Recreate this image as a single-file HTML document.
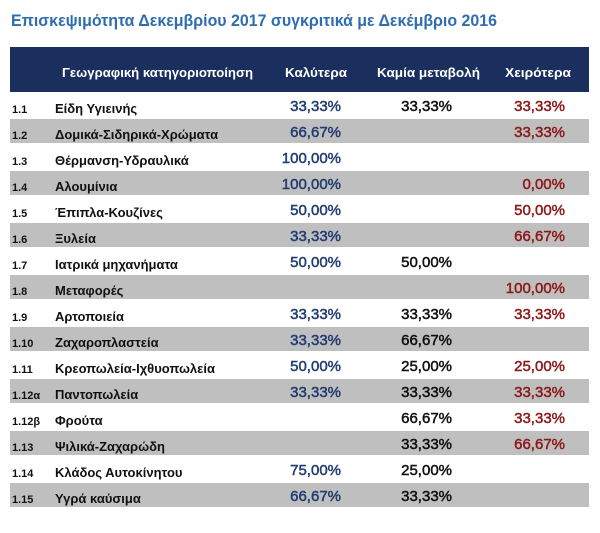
<!DOCTYPE html>
<html><head><meta charset="utf-8"><style>
html,body{margin:0;padding:0;background:#fff;width:600px;height:533px;overflow:hidden}
svg{display:block;font-family:"Liberation Sans",Arial,sans-serif}
</style></head><body>
<svg id="tbl" width="600" height="533" viewBox="0 0 600 533">
<text x="11" y="26" font-size="17" font-weight="bold" fill="#2e6db0" textLength="486" lengthAdjust="spacingAndGlyphs">Επισκεψιμότητα Δεκεμβρίου 2017 συγκριτικά με Δεκέμβριο 2016</text>
<rect x="10" y="47" width="579" height="45" fill="#1b2f5e"/>
<text x="62" y="77" font-size="13" font-weight="bold" fill="#fff" textLength="191" lengthAdjust="spacingAndGlyphs">Γεωγραφική κατηγοριοποίηση</text>
<text x="285" y="77" font-size="13" font-weight="bold" fill="#fff" textLength="62" lengthAdjust="spacingAndGlyphs">Καλύτερα</text>
<text x="377" y="77" font-size="13" font-weight="bold" fill="#fff" textLength="103" lengthAdjust="spacingAndGlyphs">Καμία μεταβολή</text>
<text x="505" y="77" font-size="13" font-weight="bold" fill="#fff" textLength="66" lengthAdjust="spacingAndGlyphs">Χειρότερα</text>
<g id="rows"></g>
</svg>
<script>
const codes=["1.1","1.2","1.3","1.4","1.5","1.6","1.7","1.8","1.9","1.10","1.11","1.12α","1.12β","1.13","1.14","1.15"];
const names=["Είδη Υγιεινής","Δομικά-Σιδηρικά-Χρώματα","Θέρμανση-Υδραυλικά","Αλουμίνια","Έπιπλα-Κουζίνες","Ξυλεία","Ιατρικά μηχανήματα","Μεταφορές","Αρτοποιεία","Ζαχαροπλαστεία","Κρεοπωλεία-Ιχθυοπωλεία","Παντοπωλεία","Φρούτα","Ψιλικά-Ζαχαρώδη","Κλάδος Αυτοκίνητου","Υγρά καύσιμα"];
const better=["33,33%","66,67%","100,00%","100,00%","50,00%","33,33%","50,00%","","33,33%","33,33%","50,00%","33,33%","","","75,00%","66,67%"];
const nochange=["33,33%","","","","","","50,00%","","33,33%","66,67%","25,00%","33,33%","66,67%","33,33%","25,00%","33,33%"];
const worse=["33,33%","33,33%","","0,00%","50,00%","66,67%","","100,00%","33,33%","","25,00%","33,33%","33,33%","66,67%","",""];
const g=document.getElementById('rows');const NS="http://www.w3.org/2000/svg";
function mk(tag,attrs,txt){const e=document.createElementNS(NS,tag);for(const k in attrs)e.setAttribute(k,attrs[k]);if(txt!==undefined)e.textContent=txt;g.appendChild(e);return e;}
codes.forEach((c,i)=>{
  const top=92+26*i;
  if(i%2===1){
    const r=mk('rect',{x:10,y:top+1,width:579,height:24,fill:'#bfbfbf'});
    
    
  }
  const a=mk('text',{x:12,y:top+21,'font-size':11,'font-weight':'bold',fill:'#111'},c);
  
  
  const b=mk('text',{x:55,y:top+21,'font-size':13,'font-weight':'bold',fill:'#111'},names[i]);
  
  
  const cols=[[better,341,'#233e72','better-value'],[nochange,452,'#111','no-change-value'],[worse,565,'#8b1c1c','worse-value']];
  cols.forEach(([arr,x,col,nm])=>{
    if(!arr[i])return;
    const t=mk('text',{x:x,y:top+19,'font-size':15,'text-anchor':'end',fill:col,stroke:col,'stroke-width':0.5},arr[i]);
    
    
  });
});
</script>
</body></html>
